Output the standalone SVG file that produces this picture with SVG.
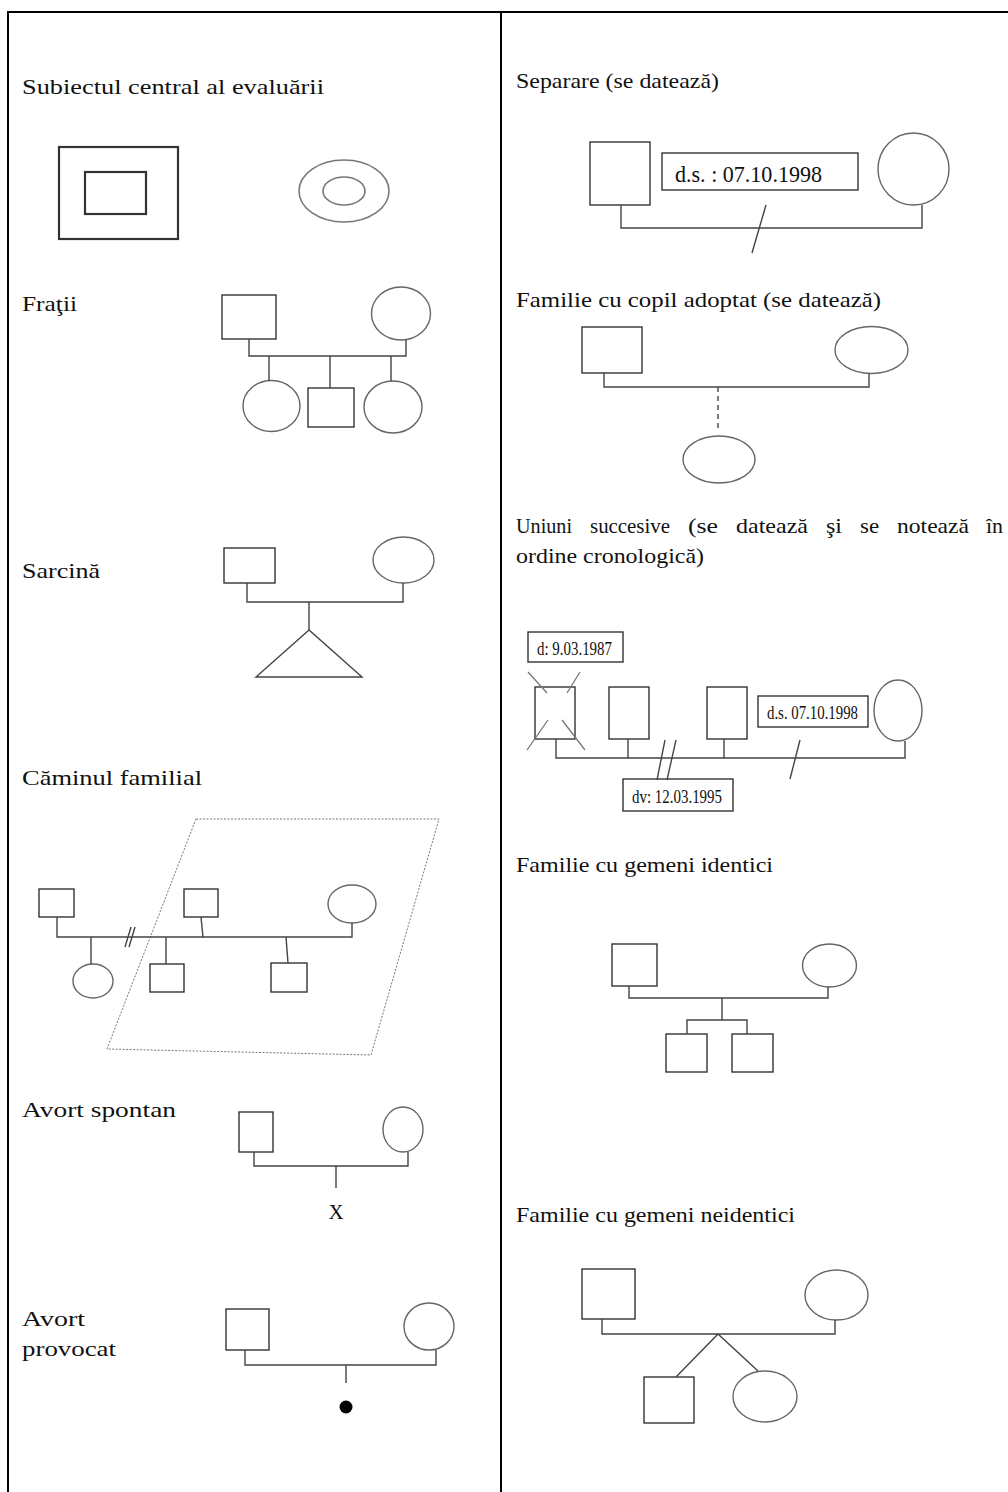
<svg xmlns="http://www.w3.org/2000/svg" width="1008" height="1492" viewBox="0 0 1008 1492">
<style>
.t{font-family:"Liberation Serif","DejaVu Serif",serif;font-size:22px;fill:#111}
.b{font-family:"Liberation Serif",serif;fill:#111}
.sq{fill:none;stroke:#333;stroke-width:1.4}
.el{fill:none;stroke:#666;stroke-width:1.4}
.ln{fill:none;stroke:#444;stroke-width:1.4}
.dot{fill:none;stroke:#777;stroke-width:1;stroke-dasharray:2 1.5}
.grid{stroke:#000;stroke-width:2;fill:none}
</style>
<g id="table">
<path class="grid" d="M8,1492 V12 H1008 M501,12 V1492"/>
</g>
<g id="labels">
<text class="t" x="22" y="94" textLength="302" lengthAdjust="spacingAndGlyphs">Subiectul central al evaluării</text>
<text class="t" x="22" y="311" textLength="55" lengthAdjust="spacingAndGlyphs">Fraţii</text>
<text class="t" x="22" y="578" textLength="78" lengthAdjust="spacingAndGlyphs">Sarcină</text>
<text class="t" x="22" y="785" textLength="180" lengthAdjust="spacingAndGlyphs">Căminul familial</text>
<text class="t" x="22" y="1117" textLength="154" lengthAdjust="spacingAndGlyphs">Avort spontan</text>
<text class="t" x="22" y="1326" textLength="63" lengthAdjust="spacingAndGlyphs">Avort</text>
<text class="t" x="22" y="1356" textLength="94" lengthAdjust="spacingAndGlyphs">provocat</text>
<text class="t" x="516" y="88" textLength="203" lengthAdjust="spacingAndGlyphs">Separare (se datează)</text>
<text class="t" x="516" y="307" textLength="365" lengthAdjust="spacingAndGlyphs">Familie cu copil adoptat (se datează)</text>
<text class="t" y="533"><tspan x="516" textLength="56" lengthAdjust="spacingAndGlyphs">Uniuni</tspan><tspan x="590" textLength="80" lengthAdjust="spacingAndGlyphs">succesive</tspan><tspan x="688" textLength="30" lengthAdjust="spacingAndGlyphs">(se</tspan><tspan x="736" textLength="72" lengthAdjust="spacingAndGlyphs">datează</tspan><tspan x="826" textLength="16" lengthAdjust="spacingAndGlyphs">şi</tspan><tspan x="860" textLength="19" lengthAdjust="spacingAndGlyphs">se</tspan><tspan x="897" textLength="72" lengthAdjust="spacingAndGlyphs">notează</tspan><tspan x="986" textLength="17" lengthAdjust="spacingAndGlyphs">în</tspan></text>
<text class="t" x="516" y="563" textLength="188" lengthAdjust="spacingAndGlyphs">ordine cronologică)</text>
<text class="t" x="516" y="872" textLength="257" lengthAdjust="spacingAndGlyphs">Familie cu gemeni identici</text>
<text class="t" x="516" y="1222" textLength="279" lengthAdjust="spacingAndGlyphs">Familie cu gemeni neidentici</text>
</g>
<g id="subiect">
<rect x="59" y="147" width="119" height="92" fill="none" stroke="#333" stroke-width="2.2"/>
<rect x="85" y="172" width="61" height="42" fill="none" stroke="#333" stroke-width="2.2"/>
<ellipse cx="344" cy="191" rx="45" ry="31" fill="none" stroke="#777" stroke-width="1.6"/>
<ellipse cx="344" cy="191" rx="21" ry="14" fill="none" stroke="#777" stroke-width="1.6"/>
</g>
<g id="fratii">
<rect class="sq" x="222" y="295" width="54" height="44"/>
<ellipse class="el" cx="401" cy="313.5" rx="29.5" ry="26.5"/>
<ellipse class="el" cx="271.5" cy="406" rx="28.5" ry="25.5"/>
<rect class="sq" x="308" y="388" width="46" height="39"/>
<ellipse class="el" cx="393" cy="407" rx="29" ry="26"/>
</g>
<g id="sarcina">
<rect class="sq" x="224" y="548" width="51" height="35"/>
<ellipse class="el" cx="403.5" cy="560" rx="30.5" ry="23"/>
<path class="ln" d="M309,630 L256,677 H362 Z"/>
</g>
<g id="caminul">
<path class="dot" d="M196,819 H439 L371,1055 L107,1049 Z"/>
<rect class="sq" x="39" y="889" width="35" height="28"/>
<rect class="sq" x="184" y="889" width="34" height="28"/>
<ellipse class="el" cx="352" cy="904" rx="24" ry="19"/>
<ellipse class="el" cx="93" cy="981" rx="20" ry="17"/>
<rect class="sq" x="150" y="964" width="34" height="28"/>
<rect class="sq" x="271" y="963" width="36" height="29"/>
</g>
<g id="avort-spontan">
<rect class="sq" x="239" y="1112" width="34" height="40"/>
<ellipse class="el" cx="403" cy="1129.5" rx="20" ry="22.5"/>
<text class="b" x="336" y="1219" font-size="21" text-anchor="middle">X</text>
</g>
<g id="avort-provocat">
<rect class="sq" x="226" y="1309" width="43" height="41"/>
<ellipse class="el" cx="429" cy="1326.5" rx="25" ry="23.5"/>
<circle cx="346" cy="1407" r="6.5" fill="#000"/>
</g>
<g id="separare">
<rect class="sq" x="590" y="142" width="60" height="63"/>
<ellipse class="el" cx="913.5" cy="169" rx="35.5" ry="36"/>
<rect class="sq" x="662" y="153" width="196" height="37"/>
<text class="b" x="675" y="182" font-size="23" textLength="147" lengthAdjust="spacingAndGlyphs">d.s. : 07.10.1998</text>
</g>
<g id="adoptat">
<rect class="sq" x="582" y="327" width="60" height="46"/>
<ellipse class="el" cx="871.5" cy="350" rx="36.5" ry="23.5"/>
<ellipse class="el" cx="719" cy="459.5" rx="36" ry="23.5"/>
</g>
<g id="uniuni">
<rect class="sq" x="528" y="632" width="95" height="30"/>
<text class="b" x="537" y="655" font-size="18" textLength="75" lengthAdjust="spacingAndGlyphs">d: 9.03.1987</text>
<rect class="sq" x="535" y="687" width="40" height="52"/>
<path d="M528,672 L547,693 M580,672 L567,693 M548,720 L527,750 M562,720 L585,750" stroke="#777" stroke-width="1.3" fill="none"/>
<rect class="sq" x="609" y="687" width="40" height="52"/>
<rect class="sq" x="707" y="687" width="40" height="52"/>
<rect class="sq" x="758" y="696" width="110" height="31"/>
<text class="b" x="767" y="719" font-size="18" textLength="91" lengthAdjust="spacingAndGlyphs">d.s. 07.10.1998</text>
<ellipse class="el" cx="898" cy="710.5" rx="24" ry="30.5"/>
<rect class="sq" x="623" y="779" width="110" height="32"/>
<text class="b" x="632" y="803" font-size="18" textLength="90" lengthAdjust="spacingAndGlyphs">dv: 12.03.1995</text>
</g>
<g id="gemeni-identici">
<rect class="sq" x="612" y="944" width="45" height="42"/>
<ellipse class="el" cx="829.5" cy="965.5" rx="27" ry="21.5"/>
<rect class="sq" x="666" y="1034" width="41" height="38"/>
<rect class="sq" x="732" y="1034" width="41" height="38"/>
</g>
<g id="gemeni-neidentici">
<rect class="sq" x="582" y="1269" width="53" height="50"/>
<ellipse class="el" cx="836.5" cy="1295" rx="31.5" ry="25"/>
<rect class="sq" x="644" y="1377" width="50" height="46"/>
<ellipse class="el" cx="765" cy="1396.5" rx="32" ry="25.5"/>
</g>
<g id="connectors">
<path class="ln" d="M249,339 V356 H406 V340 M269,356 V381 M330,356 V388 M391,356 V381"/>
<path class="ln" d="M247,583 V602 H403 V583 M309,602 V630"/>
<path class="ln" d="M57,917 V937 H352 V923 M201,917 L203,937 M91,937 V964 M166,937 V964 M286,937 L288,963 M125,947 L131,927 M129,947 L135,927"/>
<path class="ln" d="M254,1152 V1166 H408 V1152 M336,1166 V1188"/>
<path class="ln" d="M245,1350 V1365 H436 V1350 M346,1365 V1383"/>
<path class="ln" d="M621,205 V228 H922 V205 M766,205 L752,253"/>
<path class="ln" d="M604,373 V387 H869 V374"/>
<path class="ln" d="M718,387 V432" stroke-dasharray="5 4" stroke-width="1.8"/>
<path class="ln" d="M556,739 V758 H905 V741 M628,739 V758 M724,739 V758 M665,740 L657,780 M676,740 L667,780 M800,740 L790,779"/>
<path class="ln" d="M629,986 V998 H828 V987 M722,998 V1020 M687,1034 V1020 H747 V1034"/>
<path class="ln" d="M602,1319 V1334 H835 V1320 M676,1377 L718,1334 L758,1371"/>
</g>
</svg>
